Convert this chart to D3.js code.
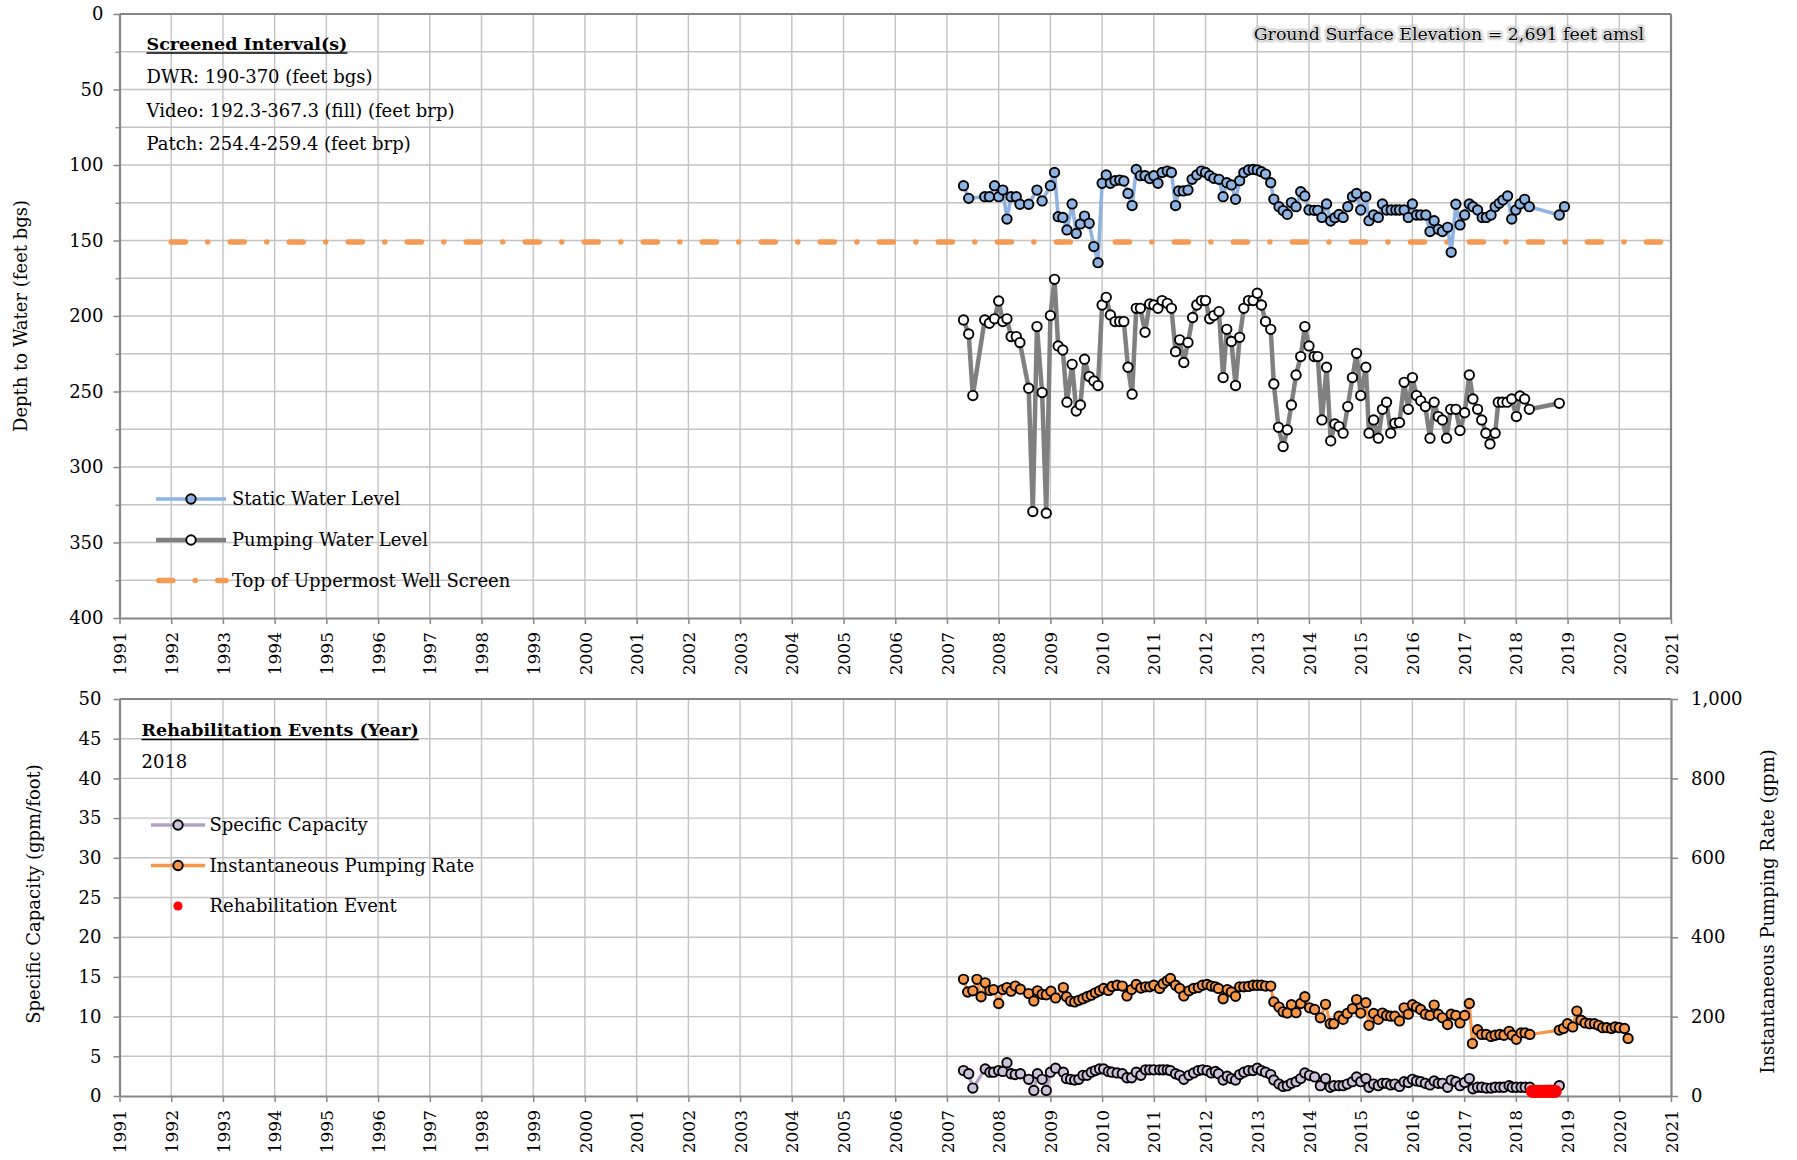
<!DOCTYPE html>
<html><head><meta charset="utf-8">
<script src="https://cdn.jsdelivr.net/npm/d3@7"></script>
<style>
html,body{margin:0;padding:0;background:#fff;}
svg{display:block;font-family:"DejaVu Serif",serif;}
</style></head><body>
<svg id="chart" width="1797" height="1160"></svg>
<script>
// ---- Well hydrograph data: [decimal year, value] ----
const staticLevel = [
[2007.32,113.7],[2007.42,122.1],[2007.73,121],[2007.82,121],[2007.92,113.7],[2008.00,121],[2008.08,116.6],[2008.16,135.8],
[2008.24,121],[2008.34,121],[2008.41,126],[2008.58,126],[2008.74,116.6],[2008.84,123.8],[2009.00,113.7],[2009.08,104.9],
[2009.15,134.2],[2009.24,134.7],[2009.32,143],[2009.42,125.8],[2009.50,145.3],[2009.58,139],[2009.66,133.8],[2009.75,138.6],
[2009.84,154],[2009.92,164.7],[2010.00,112.1],[2010.08,106.6],[2010.16,112.1],[2010.25,110.4],[2010.34,110],[2010.42,110.6],
[2010.50,118.8],[2010.58,126.9],[2010.66,102.9],[2010.74,107.1],[2010.83,107.1],[2010.92,109],[2011.00,107.1],[2011.08,112.1],
[2011.16,104.9],[2011.26,104],[2011.34,104.9],[2011.42,126.9],[2011.48,117.2],[2011.57,117.2],[2011.66,116.6],[2011.74,109.5],
[2011.83,106.6],[2011.92,104],[2012.00,104.9],[2012.08,107.1],[2012.16,108.8],[2012.26,109.5],[2012.34,121],[2012.41,111.7],
[2012.50,113.2],[2012.58,122.7],[2012.66,110.4],[2012.74,105.1],[2012.83,103.3],[2012.92,102.9],[2013.00,103.3],[2013.08,104.4],
[2013.16,106],[2013.26,111.7],[2013.32,122.7],[2013.42,127.6],[2013.50,130.2],[2013.58,132.7],[2013.66,124.9],[2013.75,127.6],
[2013.84,117.7],[2013.92,120.5],[2014.00,129.8],[2014.10,130],[2014.17,130],[2014.25,134.7],[2014.34,125.8],[2014.42,137.1],
[2014.50,134.9],[2014.58,132.7],[2014.66,134.7],[2014.75,127.6],[2014.84,121],[2014.92,118.8],[2015.00,129.8],[2015.10,121],
[2015.16,136.9],[2015.25,133.1],[2015.34,134.7],[2015.42,125.8],[2015.50,129.8],[2015.59,129.8],[2015.68,129.8],[2015.75,129.8],
[2015.84,129.8],[2015.92,134.7],[2016.00,125.8],[2016.08,133.1],[2016.16,133.1],[2016.26,133.1],[2016.34,144.1],[2016.42,136.9],
[2016.50,142.6],[2016.58,144.1],[2016.68,141.3],[2016.75,157.8],[2016.84,126],[2016.92,139.7],[2017.01,133.1],[2017.10,125.8],
[2017.17,127.6],[2017.26,129.8],[2017.35,134.7],[2017.43,134.7],[2017.52,133.1],[2017.60,127.6],[2017.68,125.4],[2017.75,123.2],
[2017.84,120.5],[2017.92,135.8],[2018.00,129.8],[2018.08,125.8],[2018.17,122.7],[2018.26,127.6],[2018.84,133.1],[2018.94,127.6]
];
const pumpingLevel = [
[2007.32,202.6],[2007.42,211.9],[2007.50,252.7],[2007.73,202.6],[2007.82,204.8],[2007.92,201.9],[2008.00,190],[2008.08,203.7],
[2008.16,201.9],[2008.24,213.6],[2008.34,213.6],[2008.41,217.6],[2008.58,247.8],[2008.66,329.5],[2008.74,207],[2008.84,250.7],
[2008.92,330.6],[2009.00,199.7],[2009.08,175.7],[2009.15,219.8],[2009.24,222.5],[2009.32,257.1],[2009.42,232],[2009.50,262.9],
[2009.58,258.9],[2009.66,228.6],[2009.75,240.1],[2009.84,243],[2009.92,246.1],[2010.00,192.7],[2010.08,187.6],[2010.16,199.3],
[2010.25,203.7],[2010.34,203.7],[2010.42,203.7],[2010.50,233.9],[2010.58,251.8],[2010.66,194.9],[2010.74,194.9],[2010.83,210.8],
[2010.92,192],[2011.00,192.7],[2011.08,194.9],[2011.16,189.8],[2011.26,191.6],[2011.34,194.9],[2011.42,223.6],[2011.50,215.8],
[2011.58,230.8],[2011.66,217.6],[2011.75,201],[2011.83,192.7],[2011.92,189.8],[2012.00,189.8],[2012.08,201.9],[2012.16,199.7],
[2012.26,197.1],[2012.34,240.8],[2012.41,208.8],[2012.50,216.9],[2012.58,246.1],[2012.66,214.1],[2012.74,194.9],[2012.83,189.8],
[2012.92,189.8],[2013.00,184.9],[2013.08,192.7],[2013.16,203.7],[2013.26,208.8],[2013.32,245],[2013.41,273.7],[2013.50,286.5],
[2013.58,275.4],[2013.66,258.9],[2013.75,239],[2013.84,226.9],[2013.92,207],[2014.00,219.8],[2014.10,226.9],[2014.17,226.9],
[2014.25,268.8],[2014.34,233.9],[2014.42,282.7],[2014.50,271.5],[2014.58,273.2],[2014.66,277.6],[2014.75,260],[2014.84,240.8],
[2014.92,224.7],[2015.00,252.7],[2015.10,233.9],[2015.16,277.6],[2015.25,268.8],[2015.34,280.9],[2015.42,261.8],[2015.50,257.1],
[2015.58,277.6],[2015.66,271],[2015.75,270.6],[2015.84,243.9],[2015.92,261.8],[2016.00,240.8],[2016.08,252.7],[2016.16,256.2],
[2016.25,260],[2016.34,280.9],[2016.42,257.1],[2016.50,266.6],[2016.58,268.8],[2016.66,280.9],[2016.74,261.8],[2016.84,261.8],
[2016.92,275.9],[2017.01,264],[2017.10,239],[2017.17,254.9],[2017.26,261.8],[2017.34,268.8],[2017.42,277.6],[2017.50,284.7],
[2017.60,277.6],[2017.66,257.1],[2017.74,257.1],[2017.83,257.1],[2017.92,254.9],[2018.01,266.6],[2018.08,252.9],[2018.17,254.9],
[2018.26,261.8],[2018.84,257.8]
];
const screenTop = [[1992,151],[2021,151]];

const specificCapacity = [
[2007.32,3.2],[2007.42,2.8],[2007.50,1.0],[2007.74,3.4],[2007.83,3.0],[2007.90,3.0],[2008.00,3.2],[2008.08,3.1],
[2008.16,4.2],[2008.24,2.8],[2008.32,2.7],[2008.42,2.8],[2008.58,2.1],[2008.68,0.7],[2008.75,2.8],[2008.84,2.1],
[2008.92,0.7],[2009.00,3.0],[2009.10,3.5],[2009.25,3.0],[2009.31,2.2],[2009.39,2.1],[2009.47,2.0],[2009.55,2.1],
[2009.63,2.6],[2009.71,2.6],[2009.79,3.0],[2009.87,3.2],[2009.95,3.4],[2010.03,3.4],[2010.12,3.1],[2010.19,3.0],
[2010.29,2.9],[2010.39,2.8],[2010.48,2.3],[2010.57,2.3],[2010.66,3.0],[2010.75,2.6],[2010.84,3.3],[2010.92,3.3],
[2011.00,3.3],[2011.11,3.3],[2011.18,3.3],[2011.26,3.3],[2011.32,3.2],[2011.42,2.8],[2011.50,2.6],[2011.58,2.1],
[2011.68,2.6],[2011.77,2.9],[2011.86,3.2],[2011.94,3.3],[2012.03,3.2],[2012.11,2.9],[2012.19,3.1],[2012.25,2.8],
[2012.34,2.0],[2012.42,2.5],[2012.50,2.2],[2012.58,2.0],[2012.66,2.7],[2012.74,3.0],[2012.83,3.2],[2012.92,3.2],
[2013.00,3.5],[2013.08,3.2],[2013.16,3.0],[2013.26,2.7],[2013.32,2.0],[2013.42,1.5],[2013.50,1.2],[2013.58,1.3],
[2013.66,1.6],[2013.75,1.8],[2013.84,2.2],[2013.92,2.9],[2014.01,2.6],[2014.11,2.4],[2014.22,1.3],[2014.32,2.2],
[2014.41,1.1],[2014.48,1.3],[2014.58,1.3],[2014.66,1.3],[2014.74,1.5],[2014.84,1.8],[2014.92,2.4],[2015.00,1.8],
[2015.10,2.2],[2015.16,1.1],[2015.25,1.5],[2015.34,1.3],[2015.42,1.6],[2015.50,1.6],[2015.58,1.4],[2015.66,1.5],
[2015.75,1.2],[2015.84,1.8],[2015.92,1.7],[2016.00,2.1],[2016.08,1.9],[2016.16,1.8],[2016.25,1.6],[2016.34,1.4],
[2016.42,1.9],[2016.50,1.6],[2016.58,1.6],[2016.68,1.1],[2016.75,2.0],[2016.84,1.8],[2016.92,1.3],[2017.01,1.7],
[2017.10,2.2],[2017.17,0.9],[2017.26,1.1],[2017.34,1.1],[2017.43,1.0],[2017.52,1.0],[2017.60,1.1],[2017.69,1.1],
[2017.77,1.1],[2017.87,1.3],[2017.93,1.1],[2018.01,1.1],[2018.10,1.1],[2018.18,1.1],[2018.27,1.1],[2018.84,1.3]
];
const pumpingRate = [
[2007.32,294],[2007.40,262],[2007.50,265],[2007.58,294],[2007.66,250],[2007.74,285],[2007.83,266],[2007.90,268],
[2008.00,233],[2008.08,268],[2008.16,273],[2008.24,264],[2008.32,277],[2008.42,269],[2008.58,258],[2008.68,239],
[2008.75,265],[2008.84,256],[2008.92,255],[2009.01,264],[2009.10,247],[2009.25,273],[2009.31,250],[2009.39,239],
[2009.47,237],[2009.55,241],[2009.63,245],[2009.71,250],[2009.79,254],[2009.87,260],[2009.95,265],[2010.03,271],
[2010.12,266],[2010.19,276],[2010.29,279],[2010.39,277],[2010.48,252],[2010.57,268],[2010.66,281],[2010.75,272],
[2010.84,275],[2010.92,275],[2011.00,279],[2011.11,271],[2011.18,283],[2011.26,290],[2011.32,296],[2011.42,279],
[2011.50,271],[2011.58,252],[2011.68,265],[2011.77,271],[2011.86,273],[2011.94,279],[2012.03,281],[2012.11,277],
[2012.19,275],[2012.25,271],[2012.34,245],[2012.42,268],[2012.50,262],[2012.58,251],[2012.66,275],[2012.74,275],
[2012.83,276],[2012.92,279],[2013.00,279],[2013.08,279],[2013.16,277],[2013.26,277],[2013.32,237],[2013.42,224],
[2013.50,212],[2013.58,209],[2013.66,230],[2013.75,210],[2013.84,233],[2013.92,250],[2014.01,222],[2014.11,218],
[2014.22,197],[2014.32,231],[2014.41,182],[2014.48,182],[2014.58,201],[2014.66,193],[2014.74,208],[2014.84,220],
[2014.92,243],[2015.00,209],[2015.10,235],[2015.16,178],[2015.25,208],[2015.34,193],[2015.42,209],[2015.50,203],
[2015.58,201],[2015.66,201],[2015.75,189],[2015.84,222],[2015.92,206],[2016.00,230],[2016.08,224],[2016.16,218],
[2016.25,206],[2016.34,203],[2016.42,229],[2016.50,206],[2016.58,197],[2016.68,180],[2016.75,206],[2016.84,203],
[2016.92,184],[2017.01,203],[2017.10,233],[2017.16,132],[2017.26,167],[2017.34,155],[2017.43,155],[2017.52,150],
[2017.60,153],[2017.69,155],[2017.77,153],[2017.87,163],[2017.93,153],[2018.01,143],[2018.10,159],[2018.18,159],
[2018.27,155],[2018.84,166],[2018.92,170],[2019.00,182],[2019.10,174],[2019.18,214],[2019.26,191],[2019.34,184],
[2019.43,182],[2019.52,182],[2019.60,178],[2019.68,172],[2019.76,172],[2019.85,170],[2019.92,174],[2020.00,172],
[2020.10,170],[2020.17,145]
];
// 2018 rehabilitation event, plotted on the specific-capacity axis
const rehabEvent = [
[2018.32,0.6],[2018.36,0.6],[2018.40,0.6],[2018.44,0.6],[2018.48,0.6],[2018.52,0.6],[2018.56,0.6],[2018.60,0.6],
[2018.64,0.6],[2018.68,0.6],[2018.72,0.6],[2018.76,0.6]
];

// ---- Tick values ----
const yearTicks = [1991,1992,1993,1994,1995,1996,1997,1998,1999,2000,2001,2002,2003,2004,2005,2006,2007,2008,2009,2010,2011,2012,2013,2014,2015,2016,2017,2018,2019,2020,2021];
const depthTicks = [0,50,100,150,200,250,300,350,400];
const depthMinor = [25,75,125,175,225,275,325,375];
const capTicks = [0,5,10,15,20,25,30,35,40,45,50];
const rateTicks = [0,200,400,600,800,1000];
const rateGrid = [100,200,300,400,500,600,700,800,900];

// ---- Text ----
const screenedTitle = "Screened Interval(s)";
const screenedLines = ["DWR: 190-370 (feet bgs)", "Video: 192.3-367.3 (fill) (feet brp)", "Patch: 254.4-259.4 (feet brp)"];
const elevationNote = "Ground Surface Elevation = 2,691 feet amsl";
const rehabTitle = "Rehabilitation Events (Year)";
const rehabYears = ["2018"];

const svg = d3.select("#chart");
const AXIS = "#868686", GRID = "#c3c3c3";
const C = {static:"#8db3e2", pumping:"#808080", screen:"#f59a52", cap:"#b3a2c7", capFill:"#ccc1da", rate:"#f79646"};
const MR = 4.7, MSW = 1.9;   // marker radius and outline width

const x = d3.scaleLinear().domain([1991,2021]).range([119.5,1671]);
const yTop = d3.scaleLinear().domain([0,400]).range([14,618]);
const yCap = d3.scaleLinear().domain([0,50]).range([1096,699]);
const yRate = d3.scaleLinear().domain([0,1000]).range([1096,699]);

// ---- Grids ----
function vGrid(y0, y1){
  svg.append("g").selectAll("line").data(yearTicks.slice(1,-1)).join("line")
    .attr("x1",d=>x(d)).attr("x2",d=>x(d)).attr("y1",y0).attr("y2",y1)
    .attr("stroke",GRID).attr("stroke-width",1.4);
}
vGrid(14,618); vGrid(699,1096);
svg.append("g").selectAll("line").data(depthMinor.concat(depthTicks.slice(1,-1))).join("line")
  .attr("x1",x.range()[0]).attr("x2",x.range()[1]).attr("y1",d=>yTop(d)).attr("y2",d=>yTop(d))
  .attr("stroke",GRID).attr("stroke-width",1.4);
svg.append("g").selectAll("line").data(rateGrid).join("line")
  .attr("x1",x.range()[0]).attr("x2",x.range()[1]).attr("y1",d=>yRate(d)).attr("y2",d=>yRate(d))
  .attr("stroke",GRID).attr("stroke-width",1.4);

// ---- Frames ----
svg.append("line").attr("x1",119.5).attr("x2",1671).attr("y1",14).attr("y2",14).attr("stroke",AXIS).attr("stroke-width",2.2);
svg.append("line").attr("x1",1671).attr("x2",1671).attr("y1",14).attr("y2",618).attr("stroke",AXIS).attr("stroke-width",2.2);
svg.append("line").attr("x1",119.5).attr("x2",1671).attr("y1",699).attr("y2",699).attr("stroke",AXIS).attr("stroke-width",2.2);

// ---- Axes ----
function styleAxis(g, size){
  g.select(".domain").attr("stroke",AXIS).attr("stroke-width",2.2);
  g.selectAll(".tick line").attr("stroke",AXIS).attr("stroke-width",1.5);
  g.selectAll("text").attr("fill","#000").style("font-size",(size||18)+"px").style("font-family","DejaVu Serif");
}
svg.append("g").attr("transform","translate(119.5,0)")
  .call(d3.axisLeft(yTop).tickValues(depthTicks).tickSize(6).tickSizeOuter(0).tickPadding(10))
  .call(g=>styleAxis(g));
svg.append("g").attr("transform","translate(119.5,0)")
  .call(d3.axisLeft(yTop).tickValues(depthMinor).tickSize(4).tickFormat(""))
  .call(g=>{g.select(".domain").remove(); g.selectAll("line").attr("stroke",AXIS).attr("stroke-width",1.2);});
svg.append("g").attr("transform","translate(119.5,0)")
  .call(d3.axisLeft(yCap).tickValues(capTicks).tickSize(6).tickSizeOuter(0).tickPadding(12))
  .call(g=>styleAxis(g));
svg.append("g").attr("transform","translate(1671,0)")
  .call(d3.axisRight(yRate).tickValues(rateTicks).tickSize(7).tickSizeOuter(0).tickPadding(13).tickFormat(d3.format(",")))
  .call(g=>styleAxis(g));
function yearAxis(yPos){
  svg.append("g").attr("transform",`translate(0,${yPos})`)
    .call(d3.axisBottom(x).tickValues(yearTicks).tickSize(6).tickSizeOuter(0).tickFormat(d3.format("d")))
    .call(g=>styleAxis(g,17))
    .call(g=>g.selectAll("text").attr("transform","rotate(-90)").attr("text-anchor","end")
      .attr("x",-14).attr("y",0).attr("dy","0.36em"));
}
yearAxis(618); yearAxis(1096);

// Axis titles
function vTitle(txt, cx, cy){
  svg.append("text").attr("transform",`translate(${cx},${cy}) rotate(-90)`).attr("text-anchor","middle")
    .attr("dy","0.35em").style("font-size","18px").text(txt);
}
vTitle("Depth to Water (feet bgs)", 21, 316);
vTitle("Specific Capacity (gpm/foot)", 34, 894);
vTitle("Instantaneous Pumping Rate (gpm)", 1768, 911.5);

// ---- Top chart series ----
const lineTop = d3.line().x(d=>x(d[0])).y(d=>yTop(d[1]));
const DASH = "14 22.5 0.01 22.5";
svg.append("path").datum(screenTop).attr("d",lineTop).attr("fill","none").attr("stroke",C.screen)
  .attr("stroke-width",5.5).attr("stroke-dasharray",DASH).attr("stroke-linecap","round");

svg.append("path").datum(staticLevel).attr("d",lineTop).attr("fill","none").attr("stroke",C.static).attr("stroke-width",3.6).attr("stroke-linejoin","round");
svg.append("g").selectAll("circle").data(staticLevel).join("circle")
  .attr("cx",d=>x(d[0])).attr("cy",d=>yTop(d[1])).attr("r",MR)
  .attr("fill",C.static).attr("stroke","#000").attr("stroke-width",MSW);
svg.append("path").datum(pumpingLevel).attr("d",lineTop).attr("fill","none").attr("stroke",C.pumping).attr("stroke-width",4.5).attr("stroke-linejoin","round");
svg.append("g").selectAll("circle").data(pumpingLevel).join("circle")
  .attr("cx",d=>x(d[0])).attr("cy",d=>yTop(d[1])).attr("r",MR)
  .attr("fill","#fff").attr("stroke","#000").attr("stroke-width",MSW);

// ---- Bottom chart series ----
const lineCap = d3.line().x(d=>x(d[0])).y(d=>yCap(d[1]));
const lineRate = d3.line().x(d=>x(d[0])).y(d=>yRate(d[1]));
svg.append("path").datum(specificCapacity).attr("d",lineCap).attr("fill","none").attr("stroke",C.cap).attr("stroke-width",3.2);
svg.append("g").selectAll("circle").data(specificCapacity).join("circle")
  .attr("cx",d=>x(d[0])).attr("cy",d=>yCap(d[1])).attr("r",MR)
  .attr("fill",C.capFill).attr("stroke","#000").attr("stroke-width",MSW);
svg.append("path").datum(pumpingRate).attr("d",lineRate).attr("fill","none").attr("stroke",C.rate).attr("stroke-width",3.2);
svg.append("g").selectAll("circle").data(pumpingRate).join("circle")
  .attr("cx",d=>x(d[0])).attr("cy",d=>yRate(d[1])).attr("r",MR)
  .attr("fill",C.rate).attr("stroke","#000").attr("stroke-width",MSW);
svg.append("g").selectAll("circle").data(rehabEvent).join("circle")
  .attr("cx",d=>x(d[0])).attr("cy",d=>yCap(d[1])).attr("r",6.6).attr("fill","#ff0000");

// ---- Annotations ----
function underlinedTitle(txt, x0, yb){
  const t = svg.append("text").attr("x",x0).attr("y",yb).style("font-size","17.5px").style("font-weight","bold").text(txt);
  const len = t.node().getComputedTextLength();
  svg.append("line").attr("x1",x0).attr("x2",x0+len).attr("y1",yb+3.5).attr("y2",yb+3.5).attr("stroke","#000").attr("stroke-width",1.6);
}
underlinedTitle(screenedTitle, 146.5, 49.5);
svg.append("g").selectAll("text").data(screenedLines).join("text")
  .attr("x",146.5).attr("y",(d,i)=>83+i*33.5).style("font-size","18px").text(d=>d);

// Elevation note with soft grey halo
const halo = svg.append("defs").append("filter").attr("id","halo").attr("x","-5%").attr("y","-40%").attr("width","110%").attr("height","180%");
halo.append("feGaussianBlur").attr("stdDeviation",1.2);
svg.append("text").attr("x",1644).attr("y",40).attr("text-anchor","end").style("font-size","17.4px")
  .attr("fill","#bdbdbd").attr("stroke","#bdbdbd").attr("stroke-width",4).attr("stroke-linejoin","round")
  .attr("filter","url(#halo)").text(elevationNote);
svg.append("text").attr("x",1644).attr("y",40).attr("text-anchor","end").style("font-size","17.4px")
  .attr("fill","#000").attr("stroke","#fff").attr("stroke-width",1.2).attr("paint-order","stroke").text(elevationNote);

underlinedTitle(rehabTitle, 141.5, 736);
svg.append("g").selectAll("text").data(rehabYears).join("text")
  .attr("x",141.5).attr("y",(d,i)=>768+i*32).style("font-size","18px").text(d=>d);

// ---- Legends ----
const topLegend = [
  {label:"Static Water Level", stroke:C.static, fill:C.static, w:3.6},
  {label:"Pumping Water Level", stroke:C.pumping, fill:"#fff", w:4.5},
  {label:"Top of Uppermost Well Screen", stroke:C.screen, dash:true, w:5.5}
];
const topRows = [499, 540, 580.5];
topLegend.forEach((d,i)=>{
  const yy = topRows[i];
  const ln = svg.append("line").attr("x1",d.dash?158.75:156).attr("x2",226).attr("y1",yy).attr("y2",yy)
    .attr("stroke",d.stroke).attr("stroke-width",d.w);
  if(d.dash) ln.attr("stroke-dasharray",DASH).attr("stroke-linecap","round");
  else svg.append("circle").attr("cx",191).attr("cy",yy).attr("r",MR).attr("fill",d.fill).attr("stroke","#000").attr("stroke-width",MSW);
  svg.append("text").attr("x",232).attr("y",yy).attr("dy","0.35em").style("font-size","18px").text(d.label);
});

const botLegend = [
  {label:"Specific Capacity", stroke:C.cap, fill:C.capFill},
  {label:"Instantaneous Pumping Rate", stroke:C.rate, fill:C.rate},
  {label:"Rehabilitation Event", dot:true}
];
const botRows = [825, 865.5, 906];
botLegend.forEach((d,i)=>{
  const yy = botRows[i];
  if(d.dot){
    svg.append("circle").attr("cx",178).attr("cy",yy).attr("r",4.6).attr("fill","#ff0000");
  } else {
    svg.append("line").attr("x1",151).attr("x2",205).attr("y1",yy).attr("y2",yy).attr("stroke",d.stroke).attr("stroke-width",3.6);
    svg.append("circle").attr("cx",178).attr("cy",yy).attr("r",MR).attr("fill",d.fill).attr("stroke","#000").attr("stroke-width",MSW);
  }
  svg.append("text").attr("x",209.5).attr("y",yy).attr("dy","0.35em").style("font-size","18px").text(d.label);
});
</script>
</body></html>
